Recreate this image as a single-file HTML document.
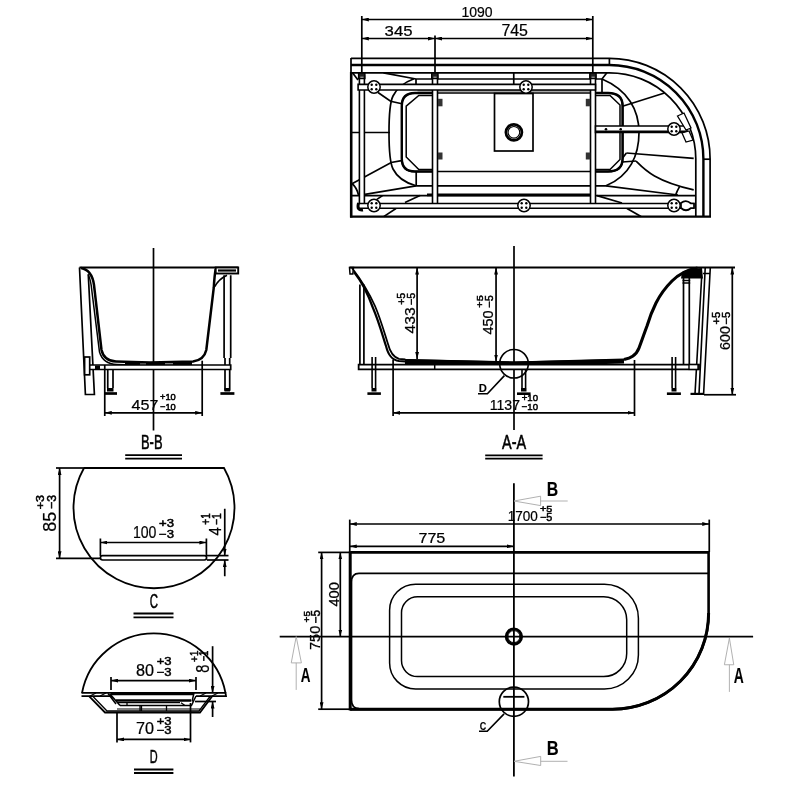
<!DOCTYPE html>
<html><head><meta charset="utf-8">
<style>
html,body{margin:0;padding:0;background:#fff;}
svg{display:block;}
text{font-family:"Liberation Sans",sans-serif;fill:#000;}
</style></head>
<body>
<svg width="800" height="800" viewBox="0 0 800 800">
<defs>
<marker id="ar" viewBox="0 0 7 4" refX="7" refY="2" markerWidth="7" markerHeight="4" markerUnits="userSpaceOnUse" orient="auto-start-reverse">
<path d="M0,0.1 L7,2 L0,3.9 z" fill="#000"/>
</marker>
<g id="roller">
<circle cx="0" cy="0" r="6.2" fill="#fff" stroke="#000" stroke-width="1.5"/>
<circle cx="-2.3" cy="-2.3" r="1.2" fill="#000"/><circle cx="2.3" cy="-2.3" r="1.2" fill="#000"/>
<circle cx="-2.3" cy="2.3" r="1.2" fill="#000"/><circle cx="2.3" cy="2.3" r="1.2" fill="#000"/>
</g>
</defs>
<g fill="none" stroke="#000" stroke-width="1.7">
<!-- ============ TOP VIEW ============ -->
<line x1="361.8" y1="16" x2="361.8" y2="72"/>
<line x1="435" y1="35.5" x2="435" y2="72"/>
<line x1="592.8" y1="16" x2="592.8" y2="72"/>
<line x1="361.8" y1="19.5" x2="592.8" y2="19.5" marker-start="url(#ar)" marker-end="url(#ar)"/>
<line x1="361.8" y1="38.5" x2="435" y2="38.5" marker-start="url(#ar)" marker-end="url(#ar)"/>
<line x1="435" y1="38.5" x2="592.8" y2="38.5" marker-start="url(#ar)" marker-end="url(#ar)"/>

<!-- contours -->
<path d="M351,58.3 H609.4 A100.7,100.7 0 0 1 710.1,159 V216.6"/>
<path d="M351,65 H609.4 A94,94 0 0 1 703.4,159 V216.6" stroke-width="2.4"/>
<path d="M352,72.8 H609.4 A86.4,86.4 0 0 1 695.8,159 V216.6"/>
<line x1="351" y1="58" x2="351" y2="72.8"/>
<line x1="351.2" y1="72" x2="351.2" y2="217.5" stroke-width="2.6"/>
<line x1="350" y1="216.6" x2="711" y2="216.6" stroke-width="2.4"/>
<line x1="609.4" y1="58" x2="609.4" y2="65"/>
<line x1="703.4" y1="159.2" x2="710.1" y2="159.2"/>
<line x1="352" y1="195.6" x2="695.8" y2="195.6"/>
<line x1="427" y1="194.8" x2="590" y2="194.8" stroke-width="2.8"/>
<line x1="513.75" y1="72.8" x2="513.75" y2="84.4"/>

<!-- left end basin -->
<path d="M352.5,72.8 L358,80"/>
<path d="M383.5,72.8 L416,79 H602 L606.9,72.8"/>
<line x1="416" y1="79" x2="416" y2="84.4"/>
<line x1="602" y1="79" x2="602" y2="92"/>
<path d="M414,78.8 C404,82.5 397,88 393,96 C390,102 389,112 389,132.5 C389,153 390,163 393,169 C397,177 404,182.5 416,185.8"/>
<path d="M602,79 C628,90 639,110 639,132.5 C639,155 630,176 606,185.8"/>
<line x1="352" y1="132.5" x2="390" y2="132.5"/>
<path d="M378,92.5 L390.6,101.25 L401.9,103.75"/>
<path d="M352,183.8 L391.2,162.5 L401.5,160.6"/>
<path d="M365,194.4 L416,185.8 H606 L678,195"/>
<line x1="416.2" y1="172" x2="416.2" y2="185.8"/>
<path d="M352,183.5 Q357,188 358.5,195"/>
<!-- thick rounded rect -->
<path d="M415,93 H608 Q622.6,93 622.6,106 V158.5 Q622.6,171.5 608,171.5 H415 Q401.8,171.5 401.8,158.5 V106 Q401.8,93 415,93 Z" stroke-width="1.7"/>
<path d="M432,93 H415 Q401.8,93 401.8,106 V158.5 Q401.8,171.5 415,171.5 H432 M590,93 H608 Q622.6,93 622.6,106 V158.5 Q622.6,171.5 608,171.5 H590" stroke-width="2.4"/>
<!-- inner octagon -->
<path d="M432,95.5 H418.8 L406.2,106.2 V157 L418.8,169.5 H432 M590,95.5 H610 L620,105 V159.5 L610,169.5 H590" stroke-width="1.5"/>
<line x1="417.5" y1="90.8" x2="590" y2="90.8" stroke="#888" stroke-width="2"/>
<!-- right end basin details -->
<path d="M622.5,106.2 L664.5,93"/>
<path d="M626.4,153 L693.7,158.4"/>
<path d="M622.6,158 L626.4,153 M622,162 L636,161"/>
<path d="M636,161 C645,170 655,181 693.7,189.9"/>
<path d="M679.7,186.4 Q677,191 675.4,195.6"/>
<!-- hatch bottom strip -->
<line x1="376.9" y1="199.4" x2="382.5" y2="195.6"/>
<line x1="383.7" y1="216.6" x2="396" y2="208.5"/>
<line x1="405" y1="202.5" x2="420" y2="195.6"/>
<line x1="597" y1="195.6" x2="622" y2="203"/>
<line x1="627" y1="208.5" x2="641" y2="216.6"/>
<!-- drain plate -->
<rect x="494.5" y="93.5" width="38.5" height="57.5"/>
<circle cx="513.9" cy="132.3" r="8" stroke-width="2.8"/>
<circle cx="513.9" cy="132.3" r="5.8" stroke-width="1.1"/>
<!-- frame rails -->
<path d="M359.4,76 H364.4 V204 H359.4 Z" fill="#fff" stroke-width="1.6"/>
<path d="M432.5,76 H437.5 V204 H432.5 Z" fill="#fff" stroke-width="1.6"/>
<path d="M590.5,76 H595.5 V204 H590.5 Z" fill="#fff" stroke-width="1.6"/>
<path d="M358.1,84.4 H595.5 V90 H358.1 Z" fill="#fff" stroke-width="1.6"/>
<path d="M358.1,203.5 H693.7 V208.2 H358.1 Z" fill="#fff" stroke-width="1.6"/>
<path d="M595.5,126 H687 V132.5 H595.5 Z" fill="#fff" stroke-width="1.6"/>
<line x1="595.5" y1="131.6" x2="687" y2="131.6" stroke-width="2.4"/>
<path d="M358.6,73 h6.3 v5.5 h-6.3 z M431.7,73 h6.3 v5.5 h-6.3 z M589.8,73 h6.3 v5.5 h-6.3 z" fill="#222" stroke-width="1.4"/>
<path d="M360.3,77.2 h3.2 M433.4,77.2 h3.2 M591.5,77.2 h3.2" stroke="#ccc" stroke-width="0.9"/>
<path d="M358.5,203 Q356.5,211 363,210" stroke-width="3"/>
<path d="M462,131.6 h-2 M522,131.6 h0" stroke-width="0"/>
<circle cx="606" cy="129.2" r="1.3" fill="#000" stroke="none"/>
<circle cx="620.7" cy="129.2" r="1.3" fill="#000" stroke="none"/>
<!-- black clamps -->
<rect x="438" y="98.8" width="4.5" height="7.5" fill="#333" stroke="none"/>
<rect x="438" y="152.5" width="4.5" height="7" fill="#333" stroke="none"/>
<rect x="585.8" y="98.8" width="4.5" height="7.5" fill="#333" stroke="none"/>
<rect x="585.8" y="152.5" width="4.5" height="7" fill="#333" stroke="none"/>
<!-- brackets -->
<path d="M677.5,116 L684,113 L691,128 L686,130 Z" fill="#fff" stroke-width="1.3"/>
<path d="M682,133 L689,131 L693,140 L686,142 Z" fill="#fff" stroke-width="1.3"/>
<path d="M681,203 Q686,199 691,203.5 H694 V208 H691 Q686,212.5 681,208 Z" fill="#fff" stroke-width="1.7"/>

</g>
<g fill="none" stroke="#000" stroke-width="1.7">
<!-- ============ B-B VIEW ============ -->
<line x1="153.5" y1="248" x2="153.5" y2="430.5"/>
<line x1="79.5" y1="267.5" x2="238.3" y2="267.5" stroke-width="1.8"/>
<path d="M79.5,267.5 L85.4,394.5 H94.4 L88.3,275"/>
<path d="M81,268 Q92,270 94,285 L101.5,350 Q104,361 116,361.5 L150,362.5 L193,361.5 Q204,360 206.3,350 L213.8,287.5 Q214.5,275 215.7,269" stroke-width="2.5"/>
<path d="M88,274 Q91,280 92,292 L99.5,352 Q103,364 117,364.5 L135,365" stroke-width="1.5"/>
<path d="M125,364 L150,364.3 L192,363.5" stroke-width="3.2"/>
<path d="M140,364.2 h6 M165,364 h8" stroke="#fff" stroke-width="1"/>
<path d="M88,365 H230.7 V369.5 H88 Z" fill="#fff" stroke-width="1.7"/>
<rect x="95" y="365.5" width="5" height="3.5" fill="#000" stroke="none"/>
<rect x="84.6" y="357" width="5.1" height="17.8" fill="#fff"/>
<path d="M107.75,369.5 V388 M113,369.5 V388" stroke-width="1.7"/>
<rect x="107" y="388" width="6.5" height="3.5" fill="#000" stroke="none"/>
<line x1="104" y1="393.5" x2="117" y2="393.5" stroke-width="2.7"/>
<path d="M224.1,275.3 V358 M230.7,275.3 V358 M225,358 V365 M229.7,358 V365 M225,369.5 V390.7 M229.7,369.5 V390.7" stroke-width="1.7"/>
<rect x="224.5" y="388" width="5.5" height="3.5" fill="#000" stroke="none"/>
<line x1="220.4" y1="393.5" x2="234.4" y2="393.5" stroke-width="2.7"/>
<rect x="215.7" y="267.5" width="22.5" height="6" fill="#fff" stroke-width="1.9"/>
<line x1="218" y1="270.5" x2="236" y2="270.5" stroke-width="2.2"/>
<path d="M214.7,286.6 Q219,279 227,275.3" stroke-width="1.7"/>
<line x1="104.75" y1="365" x2="104.75" y2="416"/>
<line x1="202.2" y1="360.7" x2="202.2" y2="416"/>
<line x1="104.75" y1="412.8" x2="202.2" y2="412.8" marker-start="url(#ar)" marker-end="url(#ar)" stroke-width="1.7"/>
<path d="M125.2,455.2 H182 M125.2,458.6 H182" stroke-width="1.8"/>

</g>
<g fill="none" stroke="#000" stroke-width="1.7">
<!-- ============ A-A VIEW ============ -->
<line x1="514" y1="246" x2="514" y2="430"/>
<line x1="349.5" y1="267.5" x2="735" y2="267.5" stroke-width="1.8"/>
<path d="M349.5,267.5 H353.5 L352.8,274 H350 Z" stroke-width="1.5"/>
<!-- left wall -->
<path d="M352,268 C362,281 370,295 375,306 C381,320 385,335 388,344 C390,352 393,357 399,358.9 L405.4,359.5" stroke-width="1.8"/>
<path d="M354,272 C363,283 369,297 373,308 C379,322 383,337 386,346 C388,354 391,360 399,361 L405.4,361.5" stroke-width="2.2"/>
<!-- right wall -->
<path d="M624,359.5 C630,358 636,356 639,348 C642,340 644,334 647,326 C650,316 653,309 656,303 C660,295 666,287 672,281 C678,275 686,270 697.5,268" stroke-width="3.1"/>
<!-- basin bottom thick band -->
<path d="M405,361.5 L514,364 L624,361" stroke-width="4.8"/>
<path d="M403,359.5 L514,362 L626,359.5" stroke-width="1.2"/>
<path d="M359.9,284.5 V364.6 M363.9,284.5 V364.6" stroke-width="1.7"/>
<path d="M358.65,364.65 H699 V369.4 H358.65 Z" fill="#fff" stroke-width="1.8"/>
<path d="M434.7,364.6 V369.4" stroke-width="1.5"/>
<!-- legs -->
<path d="M372.1,357 V388 M375.6,357 V388" stroke-width="1.6"/>
<rect x="371.5" y="388" width="5" height="3.5" fill="#000" stroke="none"/>
<line x1="367.4" y1="393.6" x2="380.9" y2="393.6" stroke-width="2.6"/>
<path d="M522,369.4 V388 M525.6,369.4 V388" stroke-width="1.6"/>
<rect x="521" y="388" width="5.5" height="3.5" fill="#000" stroke="none"/>
<line x1="517" y1="393.7" x2="530.6" y2="393.7" stroke-width="2.6"/>
<path d="M672.1,357 V388 M675.6,357 V388" stroke-width="1.6"/>
<rect x="671.5" y="388" width="5" height="3.5" fill="#000" stroke="none"/>
<line x1="666.9" y1="393.7" x2="680.9" y2="393.7" stroke-width="2.6"/>
<!-- right post + panel -->
<path d="M683.5,278 V364.6 M689.3,278 V364.6" stroke-width="1.7"/>
<path d="M682.5,280.5 H690.2 M682.5,283 H690.2" stroke-width="1.3"/>
<path d="M682,272 C688,269 694,268 702,268 L703,278.4 H681 Z" fill="#000" stroke="none"/>
<path d="M710.3,267.5 L703.6,394 M705.2,268 L699,394 M701.6,278 L695,394 M703,273.5 H710" stroke-width="1.6"/>
<line x1="690.5" y1="393.9" x2="704" y2="393.9" stroke-width="2.2"/>
<rect x="689" y="364.6" width="9" height="4.8" fill="#fff" stroke-width="1.4"/>
<!-- circle D -->
<circle cx="514" cy="363.75" r="14.3" stroke-width="1.6"/>
<path d="M478,393.7 H487.4 L504.4,375.6" stroke-width="1.6"/>
<!-- dims -->
<line x1="417.1" y1="267.5" x2="417.1" y2="359" marker-start="url(#ar)" marker-end="url(#ar)"/>
<line x1="496.05" y1="267.5" x2="496.05" y2="361.5" marker-start="url(#ar)" marker-end="url(#ar)"/>
<line x1="393.1" y1="359.7" x2="393.1" y2="416"/>
<line x1="634.5" y1="360" x2="634.5" y2="416"/>
<line x1="393.1" y1="412.8" x2="634.5" y2="412.8" marker-start="url(#ar)" marker-end="url(#ar)" stroke-width="1.8"/>
<line x1="704" y1="394.75" x2="736" y2="394.75"/>
<line x1="732.3" y1="267.5" x2="732.3" y2="394.75" marker-start="url(#ar)" marker-end="url(#ar)"/>
<path d="M485.2,455.4 H542.6 M485.2,458.7 H542.6" stroke-width="1.8"/>

</g>
<g fill="none" stroke="#000" stroke-width="1.7">
<!-- ============ C VIEW ============ -->
<path d="M84,468 H224 A80.5,80.5 0 1 1 84,468" stroke-width="1.8"/>
<line x1="56" y1="468" x2="84" y2="468"/>
<line x1="56" y1="558.3" x2="101" y2="558.3"/>
<line x1="59.6" y1="468" x2="59.6" y2="558.3" marker-start="url(#ar)" marker-end="url(#ar)"/>
<rect x="100.4" y="555.6" width="106.2" height="4.4" rx="2.2" stroke-width="1.7"/>
<line x1="100.4" y1="538.5" x2="100.4" y2="556"/>
<line x1="206.4" y1="538.5" x2="206.4" y2="556"/>
<line x1="100.4" y1="542.5" x2="206.4" y2="542.5" marker-start="url(#ar)" marker-end="url(#ar)"/>
<line x1="206.9" y1="555.6" x2="228.5" y2="555.6"/>
<line x1="206.9" y1="560" x2="228.5" y2="560"/>
<line x1="224.75" y1="508.75" x2="224.75" y2="555.6" marker-end="url(#ar)"/>
<line x1="224.75" y1="576.25" x2="224.75" y2="560" marker-end="url(#ar)"/>
<path d="M133.5,613.5 H173.5 M133.5,617.3 H173.5" stroke-width="1.8"/>

</g>
<g fill="none" stroke="#000" stroke-width="1.7">
<!-- ============ D VIEW ============ -->
<path d="M82,693 A73,73 0 0 1 225.5,693" stroke-width="1.8"/>
<!-- lip -->
<path d="M81.5,692.8 H225.5 L226,696.2 H196 M110,696.2 H81.5 Z" stroke-width="1.8"/>
<line x1="111" y1="694" x2="194" y2="694" stroke-width="2.6"/>
<path d="M90,696 L96,693 M100,696 L106,693 M200,696 L206,693 M212,696 L218,693" stroke-width="1.2"/>
<!-- outer trapezoid -->
<path d="M89,696.2 L105,712.5 H200 L212,696.5" stroke-width="1.8"/>
<path d="M93,696.5 L107,711 H199 L210,696.5" stroke-width="1.3"/>
<!-- inner steps -->
<path d="M108,693.5 L116,704 M110,694 L120,705.5" stroke-width="1.5"/>
<path d="M194,693 L192,701.5 M196,696 L191.5,705.5" stroke-width="1.5"/>
<line x1="116" y1="700.5" x2="191" y2="700.5" stroke-width="2.6"/>
<line x1="118" y1="702.7" x2="180" y2="702.7" stroke-width="1.2"/>
<line x1="120" y1="705.5" x2="192" y2="705.5" stroke-width="1.5"/>
<line x1="117" y1="709" x2="200" y2="709" stroke-width="1.2"/>
<path d="M181,702.7 L185,705.5" stroke-width="1.2"/>
<path d="M127,702.7 V705.5 M140,705.5 V711 M141.5,705.5 V711 M166.5,705.5 V711" stroke-width="1.3"/>
<!-- dims -->
<line x1="111" y1="677" x2="111" y2="690"/>
<line x1="196" y1="677" x2="196" y2="690"/>
<line x1="111" y1="680.6" x2="196" y2="680.6" marker-start="url(#ar)" marker-end="url(#ar)"/>
<line x1="117" y1="712" x2="117" y2="742.4"/>
<line x1="190.5" y1="703" x2="190.5" y2="742.4"/>
<line x1="117" y1="739.4" x2="190.5" y2="739.4" marker-start="url(#ar)" marker-end="url(#ar)"/>
<line x1="212.6" y1="646.2" x2="212.6" y2="693" marker-end="url(#ar)"/>
<line x1="212.6" y1="717" x2="212.6" y2="701.5" marker-end="url(#ar)"/>
<line x1="195" y1="701.5" x2="216" y2="701.5"/>
<path d="M134,769.5 H173.4 M134,773 H173.4" stroke-width="1.8"/>

</g>
<g fill="none" stroke="#000" stroke-width="1.7">
<!-- ============ PLAN VIEW ============ -->
<path d="M350.2,552.4 H708.6 V613 A96,96 0 0 1 612.5,709.2 H350.2" stroke-width="2.6"/>
<path d="M708.6,613 A96,96 0 0 1 612.5,709.2 H350.2" stroke-width="3"/>
<line x1="350.2" y1="551.5" x2="350.2" y2="710.5" stroke-width="3"/>
<path d="M708.6,573.3 H359 Q351.5,573.3 351.5,582 V700 Q351.5,708.5 359,708.5" stroke-width="1.7"/>
<path d="M415.6,584.2 H604.4 A34,34 0 0 1 638.4,618.2 V655 A34,34 0 0 1 604.4,689 H415.6 A26,26 0 0 1 389.6,663 V610.2 A26,26 0 0 1 415.6,584.2 Z" stroke-width="1.5"/>
<path d="M417.5,596.8 H603.7 A23,23 0 0 1 626.7,619.8 V653.6 A23,23 0 0 1 603.7,676.6 H417.5 A16,16 0 0 1 401.5,660.6 V612.8 A16,16 0 0 1 417.5,596.8 Z" stroke-width="1.5"/>
<line x1="279.7" y1="636.6" x2="753.1" y2="636.6" stroke-width="1.6"/>
<line x1="513.9" y1="483.3" x2="513.9" y2="776.4" stroke-width="1.8"/>
<circle cx="513.9" cy="636.6" r="7.7" stroke-width="2.9"/>
<circle cx="513.9" cy="636.6" r="6" stroke-width="1"/>
<circle cx="513.9" cy="701.7" r="14.6" stroke-width="1.7"/>
<line x1="503.3" y1="696.8" x2="524.4" y2="696.8" stroke-width="1.8"/>
<path d="M479,731.2 H487.2 L504.1,713.9" stroke-width="1.6"/>
<line x1="349.75" y1="519.6" x2="349.75" y2="552"/>
<line x1="709.25" y1="519.6" x2="709.25" y2="552"/>
<line x1="349.75" y1="524" x2="709.25" y2="524" marker-start="url(#ar)" marker-end="url(#ar)"/>
<line x1="349.75" y1="546.3" x2="513.9" y2="546.3" marker-start="url(#ar)" marker-end="url(#ar)"/>
<line x1="340.3" y1="552.4" x2="340.3" y2="636.6" marker-start="url(#ar)" marker-end="url(#ar)"/>
<line x1="318.2" y1="552.4" x2="350" y2="552.4"/>
<line x1="318.2" y1="709.2" x2="350" y2="709.2"/>
<line x1="321.6" y1="552.4" x2="321.6" y2="709.2" marker-start="url(#ar)" marker-end="url(#ar)"/>
<g stroke="#a8a8a8" stroke-width="0.9">
<path d="M296.2,636.6 L291.25,662.9 H301.4 Z M296.2,662.9 V689.9"/>
<path d="M729.4,638.1 L724.4,664.75 H733.75 Z M729.4,664.75 V691.9"/>
<path d="M514,501 L540.6,496.2 V505.6 Z M540.6,501 H567.7"/>
<path d="M514,761.3 L540.7,756.4 V765.5 Z M540.7,761.3 H567.5"/>
</g>

</g>
<use href="#roller" x="374" y="87"/>
<use href="#roller" x="526" y="87"/>
<use href="#roller" x="374" y="205.5"/>
<use href="#roller" x="524" y="205.5"/>
<use href="#roller" x="674" y="129"/>
<use href="#roller" x="674" y="205.5"/>
<g style="will-change:transform">
<text transform="translate(461.40,16.85) scale(0.957,1)" font-size="14.65" stroke="#000" stroke-width="0.22">1090</text>
<text transform="translate(384.60,35.85) scale(1.082,1)" font-size="15.49" stroke="#000" stroke-width="0.22">345</text>
<text transform="translate(501.40,35.84) scale(1.014,1)" font-size="15.71" stroke="#000" stroke-width="0.22">745</text>
<text transform="translate(131.50,409.85) scale(1.078,1)" font-size="15.00" stroke="#000" stroke-width="0.22">457</text>
<text transform="translate(160.00,400.41) scale(1.018,1)" font-size="9.15" stroke="#000" stroke-width="0.5">+10</text>
<text transform="translate(160.00,409.91) scale(1.018,1)" font-size="9.15" stroke="#000" stroke-width="0.5">&#8722;10</text>
<text transform="translate(141.00,448.80) scale(0.623,1)" font-size="20.72" stroke="#000" stroke-width="0.55">B-B</text>
<text transform="translate(489.70,409.96) scale(1.011,1)" font-size="13.94" stroke="#000" stroke-width="0.22">1137</text>
<text transform="translate(521.70,400.70) scale(1.004,1)" font-size="9.58" stroke="#000" stroke-width="0.5">+10</text>
<text transform="translate(521.70,409.90) scale(0.975,1)" font-size="9.86" stroke="#000" stroke-width="0.5">&#8722;10</text>
<text transform="translate(502.00,448.80) scale(0.704,1)" font-size="20.58" stroke="#000" stroke-width="0.55">A-A</text>
<text transform="translate(478.80,391.80) scale(1.063,1)" font-size="10.58" font-weight="bold" stroke="#000" stroke-width="0.1">D</text>
<text transform="translate(414.75,333.50) rotate(-90) scale(1.016,1)" font-size="15.49" stroke="#000" stroke-width="0.22">433</text>
<text transform="translate(414.64,305.00) rotate(-90) scale(0.979,1)" font-size="10.93" stroke="#000" stroke-width="0.5">&#8722;5</text>
<text transform="translate(405.49,304.80) rotate(-90) scale(0.963,1)" font-size="10.93" stroke="#000" stroke-width="0.5">+5</text>
<text transform="translate(493.05,334.50) rotate(-90) scale(0.999,1)" font-size="14.51" stroke="#000" stroke-width="0.22">450</text>
<text transform="translate(493.09,307.70) rotate(-90) scale(0.999,1)" font-size="10.93" stroke="#000" stroke-width="0.5">&#8722;5</text>
<text transform="translate(482.90,307.70) rotate(-90) scale(1.108,1)" font-size="9.86" stroke="#000" stroke-width="0.5">+5</text>
<text transform="translate(729.60,349.90) rotate(-90) scale(0.968,1)" font-size="14.79" stroke="#000" stroke-width="0.22">600</text>
<text transform="translate(729.69,324.50) rotate(-90) scale(0.992,1)" font-size="11.14" stroke="#000" stroke-width="0.5">&#8722;5</text>
<text transform="translate(719.80,324.50) rotate(-90) scale(1.097,1)" font-size="10.07" stroke="#000" stroke-width="0.5">+5</text>
<text transform="translate(55.72,531.80) rotate(-90) scale(0.994,1)" font-size="18.03" stroke="#000" stroke-width="0.22">85</text>
<text transform="translate(55.77,508.90) rotate(-90) scale(0.962,1)" font-size="12.68" stroke="#000" stroke-width="0.5">&#8722;3</text>
<text transform="translate(43.79,509.30) rotate(-90) scale(1.127,1)" font-size="11.13" stroke="#000" stroke-width="0.5">+3</text>
<text transform="translate(132.90,538.08) scale(0.826,1)" font-size="17.11" stroke="#000" stroke-width="0.22">100</text>
<text transform="translate(159.10,527.29) scale(1.246,1)" font-size="10.56" stroke="#000" stroke-width="0.5">+3</text>
<text transform="translate(159.10,538.13) scale(1.132,1)" font-size="11.62" stroke="#000" stroke-width="0.5">&#8722;3</text>
<text transform="translate(220.75,535.50) rotate(-90) scale(0.873,1)" font-size="17.03" stroke="#000" stroke-width="0.22">4</text>
<text transform="translate(221.00,525.00) rotate(-90) scale(0.813,1)" font-size="12.68" stroke="#000" stroke-width="0.5">&#8722;1</text>
<text transform="translate(210.00,524.75) rotate(-90) scale(0.795,1)" font-size="12.68" stroke="#000" stroke-width="0.5">+1</text>
<text transform="translate(149.75,607.69) scale(0.542,1)" font-size="21.13" stroke="#000" stroke-width="0.55">C</text>
<text transform="translate(136.10,675.74) scale(1.010,1)" font-size="16.06" stroke="#000" stroke-width="0.22">80</text>
<text transform="translate(156.75,665.29) scale(1.171,1)" font-size="11.13" stroke="#000" stroke-width="0.5">+3</text>
<text transform="translate(156.75,675.79) scale(1.171,1)" font-size="11.13" stroke="#000" stroke-width="0.5">&#8722;3</text>
<text transform="translate(136.10,734.34) scale(1.010,1)" font-size="16.06" stroke="#000" stroke-width="0.22">70</text>
<text transform="translate(156.75,724.79) scale(1.171,1)" font-size="11.13" stroke="#000" stroke-width="0.5">+3</text>
<text transform="translate(156.75,734.39) scale(1.171,1)" font-size="11.13" stroke="#000" stroke-width="0.5">&#8722;3</text>
<text transform="translate(208.91,672.80) rotate(-90) scale(0.785,1)" font-size="18.59" stroke="#000" stroke-width="0.22">8</text>
<text transform="translate(208.40,661.60) rotate(-90) scale(0.793,1)" font-size="12.17" stroke="#000" stroke-width="0.5">&#8722;1</text>
<text transform="translate(198.10,661.90) rotate(-90) scale(0.877,1)" font-size="11.30" stroke="#000" stroke-width="0.5">+1</text>
<text transform="translate(149.75,762.50) scale(0.574,1)" font-size="18.99" stroke="#000" stroke-width="0.55">D</text>
<text transform="translate(418.40,543.05) scale(1.110,1)" font-size="14.57" stroke="#000" stroke-width="0.22">775</text>
<text transform="translate(507.70,521.26) scale(0.964,1)" font-size="14.08" stroke="#000" stroke-width="0.22">1700</text>
<text transform="translate(540.00,511.71) scale(1.153,1)" font-size="9.36" stroke="#000" stroke-width="0.5">+5</text>
<text transform="translate(540.00,521.29) scale(1.021,1)" font-size="10.57" stroke="#000" stroke-width="0.5">&#8722;5</text>
<text transform="translate(338.86,606.60) rotate(-90) scale(1.050,1)" font-size="14.08" stroke="#000" stroke-width="0.22">400</text>
<text transform="translate(319.85,650.00) rotate(-90) scale(0.959,1)" font-size="15.14" stroke="#000" stroke-width="0.22">750</text>
<text transform="translate(319.88,623.50) rotate(-90) scale(0.975,1)" font-size="12.14" stroke="#000" stroke-width="0.5">&#8722;5</text>
<text transform="translate(310.30,622.40) rotate(-90) scale(1.020,1)" font-size="9.71" stroke="#000" stroke-width="0.5">+5</text>
<text transform="translate(300.70,681.60) scale(0.655,1)" font-size="20.58" font-weight="bold" stroke="#000" stroke-width="0.1">A</text>
<text transform="translate(733.75,683.10) scale(0.656,1)" font-size="21.16" font-weight="bold" stroke="#000" stroke-width="0.1">A</text>
<text transform="translate(546.70,495.60) scale(0.780,1)" font-size="20.29" font-weight="bold" stroke="#000" stroke-width="0.1">B</text>
<text transform="translate(546.70,755.30) scale(0.826,1)" font-size="20.00" font-weight="bold" stroke="#000" stroke-width="0.1">B</text>
<text transform="translate(479.75,730.28) scale(0.763,1)" font-size="11.83" font-weight="bold" stroke="#000" stroke-width="0.1">C</text>
</g>
</svg>
</body></html>
